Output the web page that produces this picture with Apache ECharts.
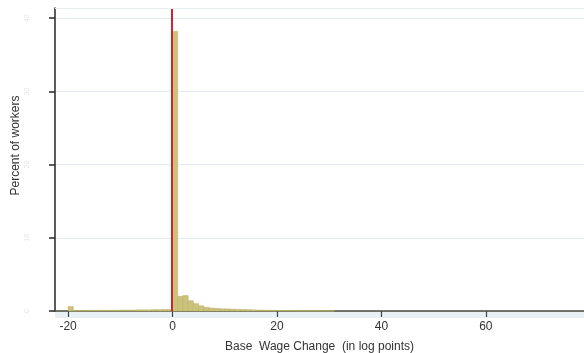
<!DOCTYPE html>
<html>
<head>
<meta charset="utf-8">
<script src="https://cdn.jsdelivr.net/npm/echarts@6/dist/echarts.min.js"></script>
<style>
  html, body { margin: 0; padding: 0; background: #fff; }
  #chart { width: 584px; height: 353px; }
</style>
</head>
<body>
<div id="chart"></div>
<script>
// Histogram of base wage changes, 1-log-point bins (bin start -> percent of workers)
var binStarts = [-20, -19, -18, -17, -16, -15, -14, -13, -12, -11, -10, -9, -8, -7, -6, -5, -4, -3, -2, -1,
                 0, 1, 2, 3, 4, 5, 6, 7, 8, 9, 10, 11, 12, 13, 14, 15, 16, 17, 18, 19, 20,
                 21, 22, 23, 24, 25, 26, 27, 28, 29, 30];
var percents  = [0.6, 0.05, 0.05, 0.06, 0.06, 0.1, 0.08, 0.08, 0.1, 0.1, 0.12, 0.1, 0.12, 0.15, 0.15, 0.15, 0.18, 0.18, 0.2, 0.2,
                 38.2, 2.0, 2.1, 1.4, 1.0, 0.7, 0.5, 0.4, 0.35, 0.3, 0.28, 0.25, 0.22, 0.2, 0.18, 0.15, 0.12, 0.1, 0.1, 0.08, 0.07,
                 0.06, 0.05, 0.05, 0.04, 0.04, 0.03, 0.03, 0.03, 0.02, 0.02];
var binWidth = 1;
var xTickValues = [-20, 0, 20, 40, 60];
var yTickValues = [0, 10, 20, 30, 40];

var bins = binStarts.map(function (s, i) { return [s, s + binWidth, percents[i]]; });

var chart = echarts.init(document.getElementById('chart'));
chart.setOption({
  animation: false,
  textStyle: { fontFamily: 'Liberation Sans, Arial, sans-serif' },
  graphic: [{
    type: 'rect', z: -1,
    shape: { x: 55, y: 312, width: 529, height: 6 },
    style: { fill: '#e9f1f5' }
  }],
  grid: { left: 55, right: 0, top: 8, bottom: 42, outerBoundsMode: 'none', containLabel: false },
  xAxis: {
    type: 'value', min: -22.5, max: 78.8,
    axisLine: { show: true, onZero: false, lineStyle: { color: '#4a4a3a', width: 1.6 } },
    axisTick: { show: true, customValues: xTickValues, length: 6, lineStyle: { color: '#444', width: 1.2 } },
    axisLabel: { customValues: xTickValues, color: '#333', fontSize: 12, margin: 10 },
    splitLine: { show: false },
    name: 'Base  Wage Change  (in log points)',
    nameLocation: 'middle', nameGap: 30, nameMoveOverlap: false,
    nameTextStyle: { color: '#333', fontSize: 12 }
  },
  yAxis: {
    type: 'value', min: 0, max: 41.4,
    axisLine: { show: true, onZero: false, lineStyle: { color: '#333', width: 1.6 } },
    axisTick: { show: true, customValues: yTickValues, length: 6, lineStyle: { color: '#333', width: 1.6 } },
    axisLabel: { customValues: yTickValues, color: '#e4e4e4', fontSize: 7, rotate: 90, margin: 24 },
    splitLine: { show: true, lineStyle: { color: '#e2ebf0', width: 1.2 } },
    name: 'Percent of workers',
    nameLocation: 'middle', nameGap: 33, nameMoveOverlap: false,
    nameTextStyle: { color: '#333', fontSize: 12, padding: [0, 0, 0, 28] }
  },
  series: [{
    type: 'custom',
    data: bins,
    encode: { x: [0, 1], y: 2 },
    renderItem: function (params, api) {
      var p0 = api.coord([api.value(0), api.value(2)]);
      var p1 = api.coord([api.value(1), 0]);
      return {
        type: 'rect',
        shape: { x: p0[0], y: p0[1], width: p1[0] - p0[0], height: p1[1] - p0[1] },
        style: { fill: '#cbc27c', stroke: '#bdb46a', lineWidth: 0.6 }
      };
    },
    markLine: {
      silent: true, symbol: 'none', label: { show: false },
      data: [
        { xAxis: -0.2, lineStyle: { color: '#d42030', width: 2, type: 'solid' } },
        { yAxis: 41.4, lineStyle: { color: '#e6eef2', width: 1.2, type: 'solid' } }
      ]
    }
  }]
});
</script>
</body>
</html>
